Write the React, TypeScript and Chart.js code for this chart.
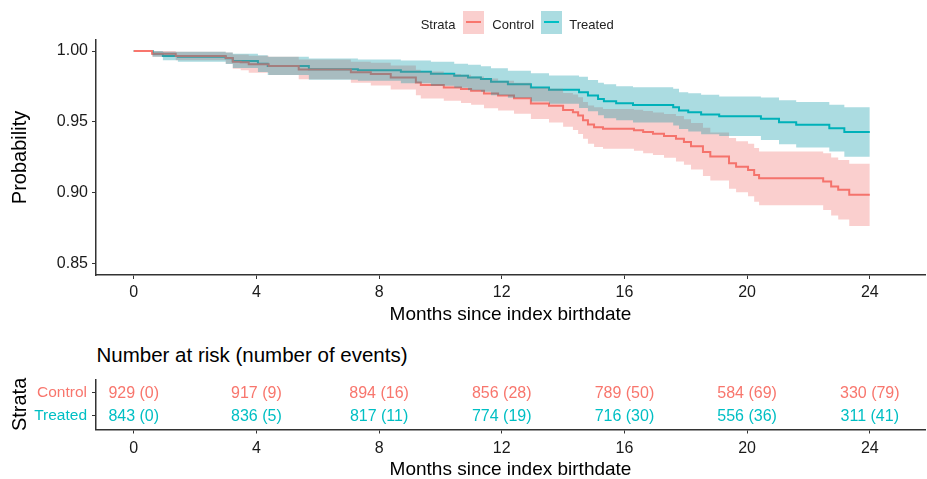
import React, { useEffect, useRef } from 'react';
import { Chart, registerables } from 'chart.js';
Chart.register(...registerables);

const FONT = "'Liberation Sans', Arial, Helvetica, sans-serif";
Chart.defaults.font.family = FONT;

const RED = '#F8766D';
const TEAL = '#00BFC4';
const RED_BAND = 'rgba(240,110,105,0.33)';
const TEAL_BAND = 'rgba(0,150,165,0.33)';
const strataColors = [RED, TEAL];
const bandColors = [RED_BAND, TEAL_BAND];

const strata = ['Control', 'Treated'];
const xTicks = [0, 4, 8, 12, 16, 20, 24];
const yTicks = [0.85, 0.9, 0.95, 1.0];

const controlTime = [0, 0.6, 1.37, 3.0, 3.23, 3.49, 3.75, 4.4, 5.38, 7.08, 7.73, 8.38, 9.2, 9.36, 10.11, 10.67, 11.0, 11.42, 11.88, 12.4, 12.95, 13.54, 14.0, 14.32, 14.49, 14.65, 14.81, 15.01, 15.3, 16.31, 16.61, 16.93, 17.29, 17.68, 17.94, 18.17, 18.56, 18.8, 19.41, 19.64, 20.03, 20.23, 20.39, 22.48, 22.74, 22.97, 23.33, 24];
const controlSurv = [1, 0.998, 0.9965, 0.995, 0.9925, 0.992, 0.9907, 0.9895, 0.987, 0.985, 0.9837, 0.9813, 0.9778, 0.976, 0.9743, 0.9732, 0.972, 0.97, 0.9685, 0.9666, 0.963, 0.9614, 0.9584, 0.9567, 0.9544, 0.951, 0.948, 0.9462, 0.945, 0.944, 0.9427, 0.9416, 0.94, 0.938, 0.9357, 0.9327, 0.9287, 0.9255, 0.9206, 0.9182, 0.9159, 0.9124, 0.91, 0.9077, 0.9042, 0.9019, 0.8984, 0.8984];
const controlUpper = [1, 1, 0.9995, 0.999, 0.9975, 0.9975, 0.9967, 0.996, 0.994, 0.9925, 0.9917, 0.9898, 0.9868, 0.9855, 0.9838, 0.9832, 0.982, 0.9805, 0.979, 0.9776, 0.974, 0.9734, 0.9704, 0.9692, 0.9674, 0.964, 0.9615, 0.9602, 0.959, 0.9585, 0.9577, 0.9566, 0.9555, 0.954, 0.9517, 0.9492, 0.9457, 0.9425, 0.9386, 0.9362, 0.9344, 0.9314, 0.929, 0.9277, 0.9247, 0.9229, 0.9204, 0.9204];
const controlLower = [1, 0.996, 0.9935, 0.991, 0.9875, 0.9865, 0.9847, 0.983, 0.98, 0.9775, 0.9757, 0.9728, 0.9688, 0.9665, 0.9648, 0.9632, 0.962, 0.9595, 0.958, 0.9556, 0.952, 0.9494, 0.9464, 0.9442, 0.9414, 0.938, 0.9345, 0.9322, 0.931, 0.9295, 0.9277, 0.9266, 0.9245, 0.922, 0.9197, 0.9162, 0.9117, 0.9085, 0.9026, 0.9002, 0.8974, 0.8934, 0.891, 0.8877, 0.8837, 0.8809, 0.8764, 0.8764];

const treatedTime = [0, 0.62, 0.95, 1.44, 3.0, 3.23, 4.05, 4.37, 5.71, 7.31, 8.71, 9.69, 10.45, 10.9, 11.32, 11.65, 12.2, 12.95, 13.54, 14.52, 14.81, 15.14, 15.33, 15.73, 16.28, 17.59, 17.78, 18.08, 18.5, 19.09, 20.45, 21.04, 21.6, 22.68, 23.17, 24];
const treatedSurv = [1, 0.998, 0.9965, 0.996, 0.9949, 0.993, 0.9911, 0.9895, 0.9872, 0.9865, 0.9853, 0.9839, 0.9825, 0.9813, 0.9802, 0.9783, 0.9765, 0.9743, 0.9727, 0.9708, 0.9685, 0.9661, 0.9645, 0.9631, 0.9619, 0.9603, 0.9579, 0.9567, 0.9551, 0.9539, 0.9521, 0.9497, 0.9479, 0.9455, 0.9427, 0.9427];
const treatedUpper = [1, 1, 0.9995, 0.9995, 0.9989, 0.998, 0.9971, 0.996, 0.9947, 0.994, 0.9933, 0.9924, 0.991, 0.9903, 0.9892, 0.9878, 0.986, 0.9843, 0.9827, 0.9818, 0.9795, 0.9776, 0.9765, 0.9751, 0.9744, 0.9733, 0.9709, 0.9702, 0.9691, 0.9679, 0.9671, 0.9652, 0.9639, 0.962, 0.9602, 0.9602];
const treatedLower = [1, 0.996, 0.9935, 0.9925, 0.9909, 0.988, 0.9851, 0.983, 0.9797, 0.979, 0.9773, 0.9754, 0.974, 0.9723, 0.9712, 0.9688, 0.967, 0.9643, 0.9627, 0.9598, 0.9575, 0.9546, 0.9525, 0.9511, 0.9494, 0.9473, 0.9449, 0.9432, 0.9411, 0.9399, 0.9371, 0.9342, 0.9319, 0.929, 0.9252, 0.9252];

const riskTimes = [0, 4, 8, 12, 16, 20, 24];
const controlAtRisk = [929, 917, 894, 856, 789, 584, 330];
const controlEvents = [0, 9, 16, 28, 50, 69, 79];
const treatedAtRisk = [843, 836, 817, 774, 716, 556, 311];
const treatedEvents = [0, 5, 11, 19, 30, 36, 41];

const X_MIN = -1.23;
const X_MAX = 25.8;
const AXIS_COLOR = '#333333';
const TICK_TEXT = '#1a1a1a';

const pts = (ts: number[], vs: number[]) => ts.map((t, i) => ({ x: t, y: vs[i] }));

const bandDs = (label: string, ts: number[], vs: number[], fill: any, bg: string, order: number) => ({
  label, data: pts(ts, vs), borderColor: 'transparent', borderWidth: 0, pointRadius: 0,
  stepped: 'before', fill, backgroundColor: bg, order,
});
const lineDs = (label: string, ts: number[], vs: number[], color: string) => ({
  label, data: pts(ts, vs), borderColor: color, borderWidth: 2, pointRadius: 0,
  stepped: 'before', fill: false, backgroundColor: color, order: 2,
});

function xScale(height: number, tickPad: number) {
  return {
    type: 'linear', min: X_MIN, max: X_MAX,
    afterBuildTicks: (s: any) => { s.ticks = xTicks.map((v) => ({ value: v })); },
    afterFit: (s: any) => { s.height = height; },
    grid: { drawOnChartArea: false, drawTicks: true, tickLength: 4, color: AXIS_COLOR, tickColor: AXIS_COLOR, tickWidth: 1 },
    border: { display: true, color: AXIS_COLOR, width: 1.5 },
    ticks: { color: TICK_TEXT, font: { size: 16 }, padding: tickPad, maxRotation: 0, autoSkip: false },
    title: { display: true, text: 'Months since index birthdate', color: '#000', font: { size: 19 }, padding: 0 },
  };
}

function SurvivalChart() {
  const ref = useRef<HTMLCanvasElement>(null);
  useEffect(() => {
    const chart = new Chart(ref.current as HTMLCanvasElement, {
      type: 'line',
      data: {
        datasets: [
          bandDs('Treated upper', treatedTime, treatedUpper, false, bandColors[1], 0),
          bandDs('Treated lower', treatedTime, treatedLower, '-1', bandColors[1], 0),
          bandDs('Control upper', controlTime, controlUpper, false, bandColors[0], 1),
          bandDs('Control lower', controlTime, controlLower, '-1', bandColors[0], 1),
          lineDs(strata[0], controlTime, controlSurv, strataColors[0]),
          lineDs(strata[1], treatedTime, treatedSurv, strataColors[1]),
        ] as any,
      },
      options: {
        responsive: false,
        animation: false,
        layout: { padding: { top: 40, right: 2, bottom: 0, left: 0 } },
        plugins: { legend: { display: false }, tooltip: { enabled: false } },
        scales: {
          x: xScale(51, 4) as any,
          y: {
            type: 'linear', min: 0.8417, max: 1.0078,
            afterBuildTicks: (s: any) => { s.ticks = yTicks.map((v) => ({ value: v })); },
            afterFit: (s: any) => { s.width = 96; },
            grid: { drawOnChartArea: false, drawTicks: true, tickLength: 4, color: AXIS_COLOR, tickColor: AXIS_COLOR, tickWidth: 1 },
            border: { display: true, color: AXIS_COLOR, width: 1.5 },
            ticks: { color: TICK_TEXT, font: { size: 16 }, padding: 4, callback: (v: any) => Number(v).toFixed(2) },
            title: { display: true, text: 'Probability', color: '#000', font: { size: 20 }, padding: { top: 8, bottom: 0 } },
          } as any,
        },
      },
    });
    return () => chart.destroy();
  }, []);
  return <canvas ref={ref} width={927} height={326} style={{ position: 'absolute', left: 0, top: 0, width: 927, height: 326 }} />;
}

const riskLabelPlugin = {
  id: 'riskLabels',
  afterDatasetsDraw(chart: any) {
    const ctx = chart.ctx;
    const atRisk = [controlAtRisk, treatedAtRisk];
    const events = [controlEvents, treatedEvents];
    chart.data.datasets.forEach((_ds: any, di: number) => {
      const meta = chart.getDatasetMeta(di);
      ctx.save();
      ctx.font = `16px ${FONT}`;
      ctx.fillStyle = strataColors[di];
      ctx.textAlign = 'center';
      ctx.textBaseline = 'middle';
      meta.data.forEach((el: any, i: number) => {
        ctx.fillText(`${atRisk[di][i]} (${events[di][i]})`, el.x, el.y + 1);
      });
      ctx.restore();
    });
  },
};

function RiskTable() {
  const ref = useRef<HTMLCanvasElement>(null);
  useEffect(() => {
    const chart = new Chart(ref.current as HTMLCanvasElement, {
      type: 'scatter',
      data: {
        datasets: strata.map((s, si) => ({
          label: s,
          data: riskTimes.map((t) => ({ x: t, y: si + 1 })),
          pointRadius: 0,
          borderColor: strataColors[si],
          backgroundColor: strataColors[si],
        })),
      },
      options: {
        responsive: false,
        animation: false,
        layout: { padding: { top: 10, right: 2, bottom: 0, left: 0 } },
        plugins: { legend: { display: false }, tooltip: { enabled: false } },
        scales: {
          x: xScale(51.5, 5) as any,
          y: {
            type: 'linear', min: 0.4, max: 2.6, reverse: true,
            afterBuildTicks: (s: any) => { s.ticks = strata.map((_n, i) => ({ value: i + 1 })); },
            afterFit: (s: any) => { s.width = 96; },
            grid: { drawOnChartArea: false, drawTicks: true, tickLength: 4, color: AXIS_COLOR, tickColor: AXIS_COLOR, tickWidth: 1 },
            border: { display: true, color: AXIS_COLOR, width: 1.5 },
            ticks: {
              font: { size: 15.5 }, padding: 5,
              color: (c: any) => strataColors[c.index] || TICK_TEXT,
              callback: (v: any) => strata[Math.round(Number(v)) - 1],
            },
            title: { display: true, text: 'Strata', color: '#000', font: { size: 20 }, padding: { top: 8, bottom: 0 } },
          } as any,
        },
      },
      plugins: [riskLabelPlugin],
    });
    return () => chart.destroy();
  }, []);
  return <canvas ref={ref} width={927} height={116} style={{ position: 'absolute', left: 0, top: 365, width: 927, height: 116 }} />;
}

function Legend() {
  const text = (t: string, left: number, key: string) => (
    <div key={key} style={{ position: 'absolute', left, top: 18.3, font: `13px ${FONT}`, lineHeight: '13px', color: '#222', whiteSpace: 'nowrap' }}>{t}</div>
  );
  const keyBox = (left: number, line: string, fill: string, key: string) => (
    <div key={key} style={{ position: 'absolute', left, top: 10.5, width: 21.5, height: 23, background: fill }}>
      <div style={{ position: 'absolute', left: 3.5, right: 3.5, top: 10.5, height: 2, background: line }} />
    </div>
  );
  return (
    <>
      {text('Strata', 420.7, 'title')}
      {keyBox(462.7, strataColors[0], bandColors[0], 'k0')}
      {text(strata[0], 492.3, 't0')}
      {keyBox(540.7, strataColors[1], bandColors[1], 'k1')}
      {text(strata[1], 569.3, 't1')}
    </>
  );
}

export default function App() {
  return (
    <div style={{ position: 'absolute', left: 0, top: 0, width: 927, height: 479, overflow: 'hidden', background: '#fff' }}>
      <SurvivalChart />
      <Legend />
      <div style={{ position: 'absolute', left: 96.5, top: 344.6, font: `20.5px ${FONT}`, lineHeight: '20.5px', color: '#000', whiteSpace: 'nowrap' }}>
        Number at risk (number of events)
      </div>
      <RiskTable />
    </div>
  );
}
